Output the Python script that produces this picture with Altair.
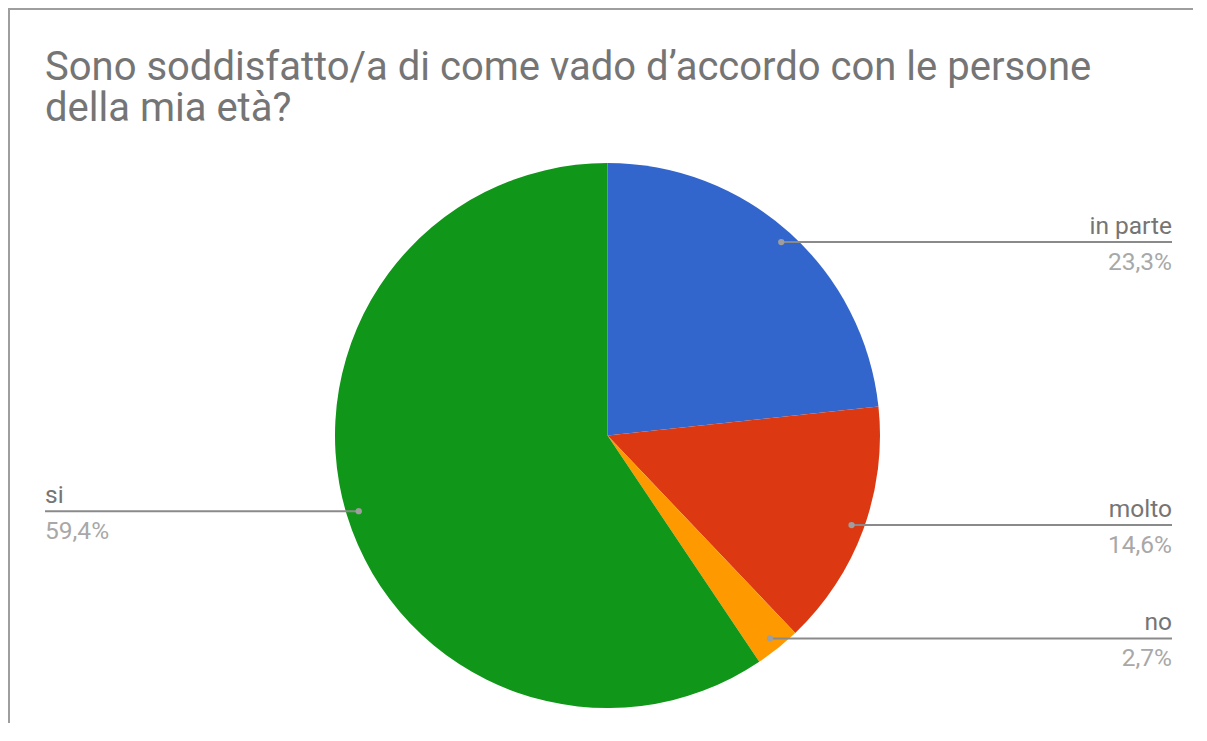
import altair as alt
import pandas as pd
import numpy as np

# ---- data ----
categories = ["in parte", "molto", "no", "si"]
values = [23.3, 14.6, 2.7, 59.4]
pct_labels = ["23,3%", "14,6%", "2,7%", "59,4%"]
colors = ["#3366cc", "#dc3912", "#ff9900", "#109618"]
title_lines = ["Sono soddisfatto/a di come vado d’accordo con le persone", "della mia età?"]

# ---- layout (pixels inside the plot area) ----
W, H = 1185, 715
CX, CY, R = 599.5, 427.5, 272.5
DOT_R = 260
RIGHT_EDGE, LEFT_EDGE = 1164, 37
FONT = "Roboto"

vals = np.array(values, dtype=float)
cum = np.cumsum(vals)
mid = (cum - vals / 2) / vals.sum() * 2 * np.pi
dot_x = CX + DOT_R * np.sin(mid)
dot_y = CY - DOT_R * np.cos(mid)
side = np.where(np.sin(mid) >= 0, "right", "left")
edge_x = np.where(side == "right", RIGHT_EDGE, LEFT_EDGE)

df = pd.DataFrame({
    "cat": categories,
    "value": values,
    "pct": pct_labels,
    "idx": list(range(len(categories))),
    "dot_x": dot_x,
    "dot_y": dot_y,
    "edge_x": edge_x,
    "side": side,
    "name_y": dot_y - 8,
    "pct_y": dot_y + 28,
})

title_df = pd.DataFrame({"line": title_lines, "ty": [72 + 41 * i for i in range(len(title_lines))]})
border_df = pd.DataFrame({"x0": [0.0], "x1": [float(W)], "y0": [1.0], "ya": [0.0], "yb": [float(H)], "xl": [1.0]})

base = alt.Chart(df)

pie = base.mark_arc(radius=R).encode(
    theta=alt.Theta("value:Q", stack=True),
    color=alt.Color("cat:N", scale=alt.Scale(domain=categories, range=colors), legend=None),
    order=alt.Order("idx:Q", sort="ascending"),
    x=alt.value(CX),
    y=alt.value(CY),
)

leaders = base.mark_rule(color="#8a8a8a", strokeWidth=2).encode(
    x=alt.X("dot_x:Q", scale=None),
    x2="edge_x:Q",
    y=alt.Y("dot_y:Q", scale=None),
)

dots = base.mark_circle(size=40, color="#9e9e9e", opacity=1).encode(
    x=alt.X("dot_x:Q", scale=None),
    y=alt.Y("dot_y:Q", scale=None),
)

def labels(which, align):
    b = base.transform_filter(alt.datum.side == which)
    name = b.mark_text(align=align, baseline="alphabetic", font=FONT, fontSize=24.5, color="#757575").encode(
        x=alt.X("edge_x:Q", scale=None), y=alt.Y("name_y:Q", scale=None), text="cat:N")
    pct = b.mark_text(align=align, baseline="alphabetic", font=FONT, fontSize=24.5, color="#a8a8a8").encode(
        x=alt.X("edge_x:Q", scale=None), y=alt.Y("pct_y:Q", scale=None), text="pct:N")
    return name + pct

title = alt.Chart(title_df).mark_text(align="left", baseline="alphabetic", font=FONT, fontSize=40, color="#757575").encode(
    x=alt.value(LEFT_EDGE), y=alt.Y("ty:Q", scale=None), text="line:N")

border_top = alt.Chart(border_df).mark_rule(color="#9e9e9e", strokeWidth=2).encode(
    x=alt.X("x0:Q", scale=None), x2="x1:Q", y=alt.Y("y0:Q", scale=None))
border_left = alt.Chart(border_df).mark_rule(color="#9e9e9e", strokeWidth=2).encode(
    x=alt.X("xl:Q", scale=None), y=alt.Y("ya:Q", scale=None), y2="yb:Q")

chart = alt.layer(
    border_top, border_left, pie, leaders, dots,
    labels("right", "right"), labels("left", "left"), title
).properties(
    width=W, height=H, padding=0, autosize=alt.AutoSizeParams(type="none")
).configure_view(strokeWidth=0, stroke=None)

chart.save("out.html", embed_options={"renderer": "svg", "actions": False})
